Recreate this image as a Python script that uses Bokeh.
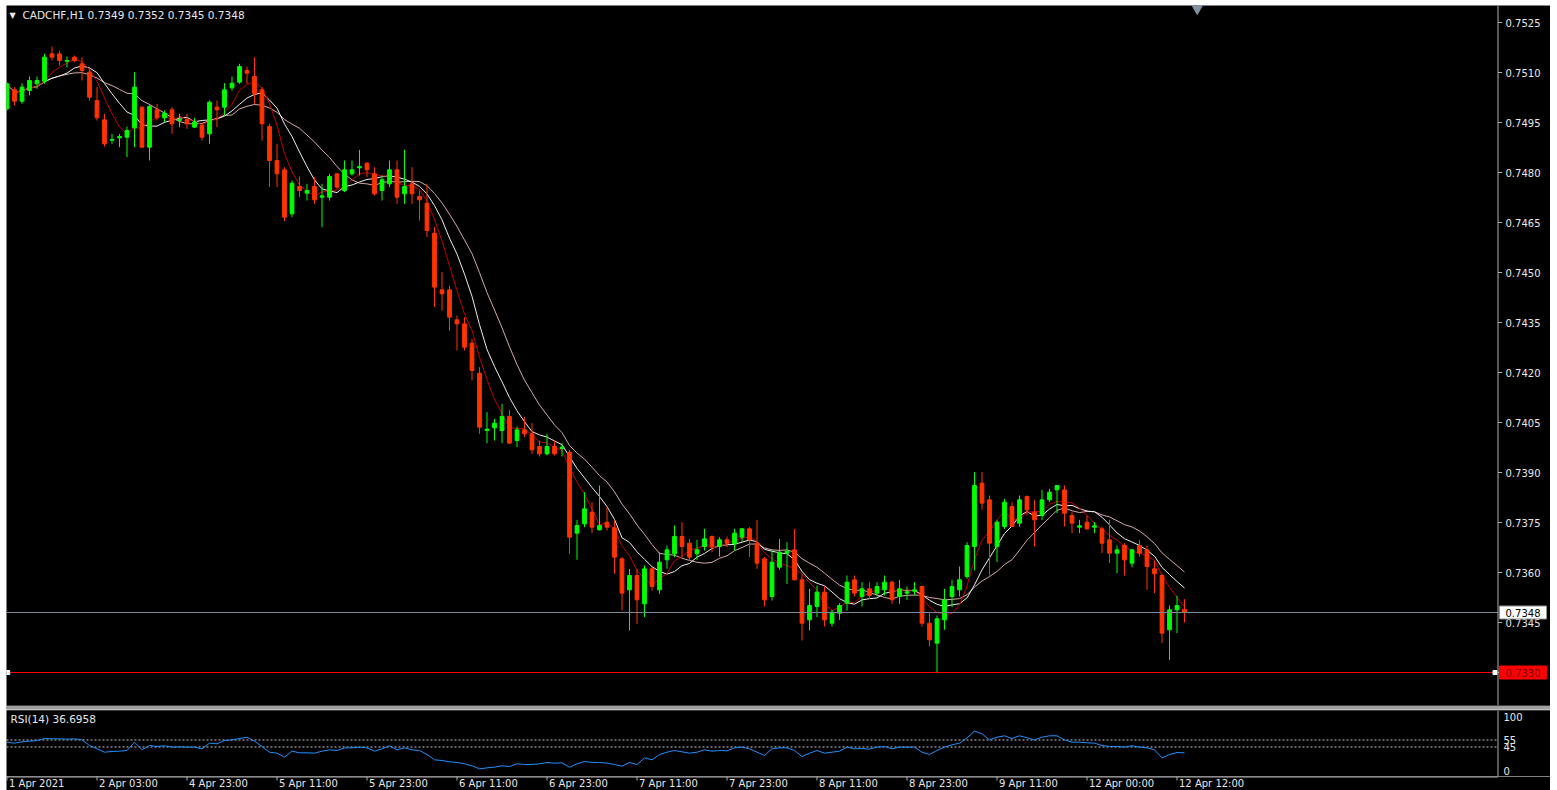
import numpy as np
import pandas as pd
from bokeh.plotting import figure
from bokeh.layouts import column
from bokeh.models import Range1d, Label, Span, ColumnDataSource, Div
from bokeh.core.properties import value
from bokeh.embed import file_html
from bokeh.resources import INLINE

# ---------------- data ----------------
symbol_title = "CADCHF,H1  0.7349 0.7352 0.7345 0.7348"
rsi_title = "RSI(14) 36.6958"

opens = [0.74991, 0.75048, 0.75014, 0.75046, 0.75066, 0.75074, 0.75156, 0.75156, 0.75134, 0.75146,
         0.75126, 0.75101, 0.75016, 0.74958, 0.74897, 0.74904, 0.74906, 0.74934, 0.74996, 0.74876,
         0.74988, 0.74964, 0.74988, 0.74956, 0.74958, 0.74936, 0.74941, 0.74916, 0.74996, 0.74996,
         0.75054, 0.75071, 0.75106, 0.75088, 0.75048, 0.74938, 0.74836, 0.74808, 0.74676, 0.74758,
         0.74738, 0.74758, 0.74726, 0.74726, 0.74796, 0.74746, 0.74796, 0.74814, 0.74828, 0.74796,
         0.74746, 0.74766, 0.74808, 0.74736, 0.74766, 0.74728, 0.74708, 0.74618, 0.74448, 0.74448,
         0.74358, 0.74346, 0.74288, 0.74198, 0.74026, 0.74034, 0.74026, 0.74068, 0.73996, 0.74028,
         0.74016, 0.73978, 0.73956, 0.73978, 0.73972, 0.73961, 0.73718, 0.73746, 0.73781, 0.73728,
         0.73751, 0.73734, 0.73641, 0.73548, 0.73591, 0.73506, 0.73611, 0.73548, 0.73638, 0.73656,
         0.73708, 0.73688, 0.73656, 0.73678, 0.73708, 0.73678, 0.73698, 0.73686, 0.73706, 0.73731,
         0.73688, 0.73641, 0.73528, 0.73616, 0.73658, 0.73668, 0.73578, 0.73458, 0.73498, 0.73541,
         0.73448, 0.73478, 0.73508, 0.73578, 0.73528, 0.73551, 0.73538, 0.73548, 0.73571, 0.73528,
         0.73538, 0.73544, 0.73558, 0.73448, 0.73388, 0.73458, 0.73528, 0.73548, 0.73588, 0.73678,
         0.73868, 0.73818, 0.73678, 0.73738, 0.73798, 0.73748, 0.73828, 0.73781, 0.73771, 0.73818,
         0.73848, 0.73848, 0.73771, 0.73736, 0.73751, 0.73736, 0.73731, 0.73698, 0.73658, 0.73681,
         0.73628, 0.73681, 0.73668, 0.73611, 0.73591, 0.73428, 0.73488, 0.73490]
highs = [0.75071, 0.75056, 0.75068, 0.75088, 0.75088, 0.75156, 0.75178, 0.75166, 0.75148, 0.75151,
         0.75146, 0.75111, 0.75056, 0.74976, 0.74916, 0.74916, 0.74938, 0.75101, 0.74998, 0.75006,
         0.75006, 0.74986, 0.74996, 0.74976, 0.74976, 0.74964, 0.74946, 0.75016, 0.75016, 0.75068,
         0.75088, 0.75126, 0.75118, 0.75146, 0.75056, 0.74946, 0.74886, 0.74816, 0.74776, 0.74788,
         0.74766, 0.74786, 0.74766, 0.74796, 0.74798, 0.74836, 0.74836, 0.74868, 0.74831, 0.74816,
         0.74791, 0.74836, 0.74836, 0.74868, 0.74816, 0.74746, 0.74766, 0.74636, 0.74501, 0.74461,
         0.74371, 0.74366, 0.74301, 0.74216, 0.74081, 0.74061, 0.74106, 0.74088, 0.74038, 0.74066,
         0.74048, 0.73996, 0.74016, 0.73996, 0.73988, 0.73968, 0.73758, 0.73841, 0.73811, 0.73861,
         0.73798, 0.73756, 0.73646, 0.73611, 0.73611, 0.73621, 0.73616, 0.73661, 0.73681, 0.73741,
         0.73751, 0.73701, 0.73698, 0.73731, 0.73711, 0.73706, 0.73708, 0.73731, 0.73733, 0.73736,
         0.73758, 0.73646, 0.73668, 0.73701, 0.73691, 0.73731, 0.73596, 0.73551, 0.73561, 0.73558,
         0.73488, 0.73508, 0.73591, 0.73591, 0.73571, 0.73571, 0.73571, 0.73591, 0.73576, 0.73578,
         0.73558, 0.73571, 0.73561, 0.73478, 0.73471, 0.73551, 0.73578, 0.73618, 0.73691, 0.73901,
         0.73901, 0.73831, 0.73758, 0.73821, 0.73811, 0.73831, 0.73831, 0.73818, 0.73848, 0.73851,
         0.73861, 0.73861, 0.73781, 0.73758, 0.73771, 0.73751, 0.73738, 0.73758, 0.73681, 0.73688,
         0.73671, 0.73698, 0.73681, 0.73636, 0.73596, 0.73501, 0.73531, 0.73520]
lows = [0.74986, 0.75001, 0.75006, 0.75031, 0.75051, 0.75066, 0.75136, 0.75121, 0.75116, 0.75131,
        0.75076, 0.75016, 0.74956, 0.74878, 0.74886, 0.74876, 0.74846, 0.74876, 0.74874, 0.74836,
        0.74956, 0.74951, 0.74916, 0.74936, 0.74931, 0.74934, 0.74896, 0.74886, 0.74936, 0.74971,
        0.75046, 0.75066, 0.75066, 0.75006, 0.74896, 0.74756, 0.74756, 0.74654, 0.74666, 0.74726,
        0.74716, 0.74706, 0.74636, 0.74716, 0.74751, 0.74741, 0.74791, 0.74791, 0.74786, 0.74731,
        0.74716, 0.74756, 0.74706, 0.74706, 0.74706, 0.74656, 0.74606, 0.74396, 0.74386, 0.74326,
        0.74266, 0.74266, 0.74176, 0.74016, 0.73988, 0.73996, 0.73988, 0.73986, 0.73976, 0.74006,
        0.73956, 0.73948, 0.73951, 0.73951, 0.73948, 0.73656, 0.73638, 0.73736, 0.73718, 0.73726,
        0.73726, 0.73596, 0.73486, 0.73426, 0.73446, 0.73466, 0.73546, 0.73536, 0.73611, 0.73646,
        0.73646, 0.73636, 0.73638, 0.73666, 0.73661, 0.73648, 0.73676, 0.73666, 0.73691, 0.73646,
        0.73611, 0.73498, 0.73516, 0.73608, 0.73566, 0.73576, 0.73396, 0.73426, 0.73466, 0.73438,
        0.73438, 0.73458, 0.73486, 0.73528, 0.73498, 0.73521, 0.73528, 0.73531, 0.73506, 0.73506,
        0.73518, 0.73531, 0.73438, 0.73378, 0.73298, 0.73428, 0.73496, 0.73528, 0.73581, 0.73606,
        0.73788, 0.73591, 0.73631, 0.73731, 0.73736, 0.73738, 0.73771, 0.73678, 0.73758, 0.73811,
        0.73778, 0.73738, 0.73718, 0.73718, 0.73728, 0.73718, 0.73658, 0.73628, 0.73598, 0.73591,
        0.73616, 0.73648, 0.73548, 0.73538, 0.73388, 0.73338, 0.73418, 0.73450]
closes = [0.75066, 0.75014, 0.75056, 0.75076, 0.75076, 0.75146, 0.75146, 0.75136, 0.75136, 0.75136,
          0.75106, 0.75026, 0.74964, 0.74886, 0.74899, 0.74908, 0.74926, 0.75056, 0.74876, 0.74998,
          0.74964, 0.74978, 0.74946, 0.74960, 0.74946, 0.74951, 0.74906, 0.75011, 0.74988, 0.75048,
          0.75068, 0.75118, 0.75098, 0.75036, 0.74946, 0.74836, 0.74796, 0.74666, 0.74768, 0.74746,
          0.74746, 0.74718, 0.74730, 0.74788, 0.74756, 0.74808, 0.74808, 0.74818, 0.74808, 0.74736,
          0.74778, 0.74808, 0.74726, 0.74758, 0.74736, 0.74718, 0.74626, 0.74456, 0.74436, 0.74366,
          0.74346, 0.74276, 0.74206, 0.74036, 0.74030, 0.74048, 0.74068, 0.73988, 0.74028, 0.74016,
          0.73968, 0.73956, 0.73978, 0.73956, 0.73976, 0.73706, 0.73741, 0.73791, 0.73736, 0.73741,
          0.73736, 0.73646, 0.73538, 0.73591, 0.73518, 0.73611, 0.73558, 0.73631, 0.73668, 0.73708,
          0.73678, 0.73646, 0.73668, 0.73701, 0.73678, 0.73698, 0.73688, 0.73718, 0.73731, 0.73698,
          0.73628, 0.73518, 0.73631, 0.73661, 0.73664, 0.73578, 0.73448, 0.73501, 0.73541, 0.73458,
          0.73481, 0.73501, 0.73571, 0.73538, 0.73551, 0.73531, 0.73558, 0.73571, 0.73518, 0.73551,
          0.73542, 0.73548, 0.73448, 0.73398, 0.73461, 0.73518, 0.73558, 0.73578, 0.73681, 0.73861,
          0.73808, 0.73688, 0.73751, 0.73811, 0.73738, 0.73818, 0.73788, 0.73758, 0.73818, 0.73841,
          0.73861, 0.73778, 0.73748, 0.73740, 0.73731, 0.73740, 0.73688, 0.73658, 0.73668, 0.73638,
          0.73668, 0.73658, 0.73618, 0.73596, 0.73418, 0.73488, 0.73501, 0.73480]
rsi_values = [51.9, 50.5, 52.4, 53.3, 54.3, 57.1, 56.7, 56.7, 56.2, 56.7,
              55.2, 47.1, 42.4, 37.6, 38.6, 39.0, 40.0, 51.9, 41.0, 47.1,
              45.7, 46.7, 44.8, 45.2, 44.8, 44.8, 42.4, 50.5, 49.5, 54.3,
              55.2, 57.1, 59.0, 53.3, 45.7, 37.6, 36.2, 30.5, 39.0, 36.7,
              36.7, 36.2, 39.0, 41.0, 40.0, 43.8, 43.8, 44.8, 43.8, 39.0,
              42.4, 46.7, 41.0, 43.8, 41.0, 40.0, 34.3, 26.7, 25.7, 23.8,
              22.9, 21.0, 18.1, 13.8, 15.2, 16.2, 18.1, 17.1, 21.0, 20.0,
              20.0, 21.0, 22.9, 21.9, 22.4, 16.2, 21.0, 24.3, 22.9, 22.9,
              21.9, 20.0, 17.6, 22.9, 20.0, 29.5, 26.7, 34.3, 37.6, 40.0,
              38.1, 36.2, 37.6, 41.0, 39.0, 40.0, 39.5, 43.8, 44.8, 42.4,
              37.6, 32.9, 42.4, 43.8, 43.8, 40.0, 31.4, 36.2, 40.0, 36.2,
              37.6, 39.0, 44.8, 42.4, 42.9, 41.9, 44.8, 45.7, 42.4, 44.8,
              44.8, 44.8, 37.6, 34.3, 40.0, 44.8, 48.1, 50.5, 58.1, 67.6,
              63.8, 55.2, 59.0, 61.0, 57.1, 61.0, 58.1, 55.2, 59.0, 61.0,
              61.0, 55.2, 51.9, 51.9, 51.0, 50.5, 47.1, 45.7, 45.7, 44.8,
              46.7, 44.8, 43.8, 41.0, 29.5, 34.3, 37.1, 36.7]

price_ticks = [0.7525, 0.7510, 0.7495, 0.7480, 0.7465, 0.7450, 0.7435,
               0.7420, 0.7405, 0.7390, 0.7375, 0.7360, 0.7345, 0.7330]
date_tick_bars = [0, 12, 24, 36, 48, 60, 72, 84, 96, 108, 120, 132, 144, 156]
date_tick_labels = ["1 Apr 2021", "2 Apr 03:00", "4 Apr 23:00", "5 Apr 11:00", "5 Apr 23:00",
                    "6 Apr 11:00", "6 Apr 23:00", "7 Apr 11:00", "7 Apr 23:00", "8 Apr 11:00",
                    "8 Apr 23:00", "9 Apr 11:00", "12 Apr 00:00", "12 Apr 12:00"]
rsi_levels = [55, 45]
rsi_scale_text = ["100", "55", "45", "0"]
last_price = 0.7348
hline_price = 0.7330
ma_periods = [5, 8, 13]

# ---------------- style / layout constants ----------------
FONT = "DejaVu Sans"
BG = "#000000"
AX = "#B0B0B0"
TXT = "#E8E8E8"
BULL = "#00FF00"
BEAR = "#FF3300"
MA_COLORS = ["#C00000", "#EDEDED", "#D7A8A8"]

FIG_W = 1544            # canvas from x=6 to x=1550
AXIS_PX = 1491.5        # price-scale line, px from the left edge of the canvas
BAR_PX = 7.5
MAIN_H = 700
RSI_H = 66
XLAB_H = 14
RSI_PX = 0.7            # px per RSI unit
RSI_TOP = 97.14         # RSI value at the top edge of the RSI pane
rsi_scale_at = [88, 55, 45, 10]   # where MT4 prints the RSI scale texts

xs0 = -0.5 / BAR_PX
x_range = Range1d(xs0, xs0 + FIG_W / BAR_PX)
ax_x = xs0 + AXIS_PX / BAR_PX
n = len(closes)
bars = list(range(n))


def px(d):
    """horizontal pixel distance -> bar units"""
    return d / BAR_PX


def base_fig(h, yr, top=0):
    f = figure(width=FIG_W, height=h, x_range=x_range, y_range=yr,
               output_backend="svg", toolbar_location=None,
               x_axis_location=None, y_axis_location=None,
               min_border=0, min_border_top=top,
               background_fill_color=BG, border_fill_color=BG,
               outline_line_color=None)
    f.grid.visible = False
    return f


# ---------------- main price pane ----------------
p = base_fig(MAIN_H + 1, Range1d(0.73201, 0.75301), 0)
p.min_border_bottom = 1

df = pd.DataFrame(dict(i=bars, o=opens, h=highs, l=lows, c=closes))
df["top"] = df[["o", "c"]].max(axis=1)
df["bot"] = df[["o", "c"]].min(axis=1)
df["col"] = np.where(df["c"] >= df["o"], BULL, BEAR)
src = ColumnDataSource(df)

s = pd.Series(closes)
for period, color in list(zip(ma_periods, MA_COLORS))[::-1]:
    p.line(bars, s.rolling(period, min_periods=1).mean(), line_color=color, line_width=1)

p.segment(x0="i", y0="h", x1="i", y1="l", line_color="col", line_width=1, source=src)
p.vbar(x="i", width=0.5, top="top", bottom="bot", fill_color="col",
       line_color="col", line_width=1, source=src)

# bid line and horizontal-line object
p.segment(x0=[xs0], y0=[last_price], x1=[ax_x], y1=[last_price], line_color="#7A8898", line_width=1)
p.segment(x0=[xs0], y0=[hline_price], x1=[ax_x], y1=[hline_price], line_color="#FF0000", line_width=1)
p.scatter(x=[xs0 + px(1.2), ax_x - px(3)], y=[hline_price, hline_price],
          marker="square", size=4, fill_color="white", line_color="white")
# chart-shift marker
p.scatter(x=[n + 0.7], y=[0.75301 - 0.00008], marker="inverted_triangle", size=11,
          fill_color="#8391A1", line_color="#8391A1")

# price scale (right)
p.add_layout(Span(location=ax_x, dimension="height", line_color=AX, line_width=1))
p.segment(x0=[ax_x] * len(price_ticks), y0=price_ticks, x1=[ax_x + px(4)] * len(price_ticks),
          y1=price_ticks, line_color=AX, line_width=1)
shown = [t for t in price_ticks if abs(t - hline_price) > 1e-6]
p.text(x=[ax_x + px(7.5)] * len(shown), y=shown, text=[f"{t:.4f}" for t in shown],
       text_color=TXT, text_font=value(FONT), text_font_size="10px",
       text_baseline="middle", text_align="left")

# price boxes on the scale
box_cx = ax_x + px(25)
p.rect(x=[box_cx, box_cx], y=[last_price, hline_price], width=px(47), height=13,
       height_units="screen", fill_color=["#FFFFFF", "#FF0000"],
       line_color=["#909090", "#FF0000"], line_width=1)
p.text(x=[ax_x + px(7.5)] * 2, y=[last_price, hline_price],
       text=[f"{last_price:.4f}", f"{hline_price:.4f}"],
       text_color=["#000000", "#7A0000"], text_font=value(FONT), text_font_size="10px",
       text_baseline="middle", text_align="left")

p.add_layout(Label(x=3, y=MAIN_H - 5, x_units="screen", y_units="screen", text="▼",
                   text_color=TXT, text_font=FONT, text_font_size="8px", text_baseline="top"))
p.add_layout(Label(x=16, y=MAIN_H - 3, x_units="screen", y_units="screen", text=symbol_title,
                   text_color=TXT, text_font=FONT, text_font_size="10.5px", text_baseline="top"))

# ---------------- separator ----------------
sep = Div(text="", width=FIG_W, height=3, margin=0,
          styles={"background-color": "#A0A0A0"})

# ---------------- RSI pane ----------------
r = base_fig(1 + RSI_H, Range1d(RSI_TOP - RSI_H / RSI_PX, RSI_TOP), 1)
r.add_layout(Span(location=ax_x, dimension="height", line_color=AX, line_width=1))
for lv in rsi_levels:
    r.segment(x0=[xs0], y0=[lv], x1=[ax_x], y1=[lv], line_color="#C8C8C8",
              line_width=1, line_dash="2 2")
r.line(bars, rsi_values, line_color="#1E90FF", line_width=1)
r.text(x=[ax_x + px(5.5)] * 4, y=rsi_scale_at, text=rsi_scale_text,
       text_color=TXT, text_font=value(FONT), text_font_size="10px",
       text_baseline="middle", text_align="left")
r.add_layout(Label(x=4, y=RSI_H - 2, x_units="screen", y_units="screen", text=rsi_title,
                   text_color=TXT, text_font=FONT, text_font_size="10.5px", text_baseline="top"))

# ---------------- time scale strip ----------------
xl = base_fig(XLAB_H, Range1d(0, XLAB_H), 0)
xl.segment(x0=[xs0], y0=[XLAB_H - 0.5], x1=[ax_x], y1=[XLAB_H - 0.5], line_color=AX, line_width=1)
xl.segment(x0=date_tick_bars, y0=[XLAB_H] * len(date_tick_bars),
           x1=date_tick_bars, y1=[XLAB_H - 4] * len(date_tick_bars),
           line_color=AX, line_width=1)
xl.text(x=date_tick_bars, y=[1.5] * len(date_tick_bars), text=date_tick_labels,
        x_offset=2, text_color=TXT, text_font=value(FONT), text_font_size="10px",
        text_baseline="bottom", text_align="left")

layout = column(p, sep, r, xl, spacing=0, margin=(5, 0, 0, 6))
open("out.html", "w").write(file_html(layout, INLINE))
